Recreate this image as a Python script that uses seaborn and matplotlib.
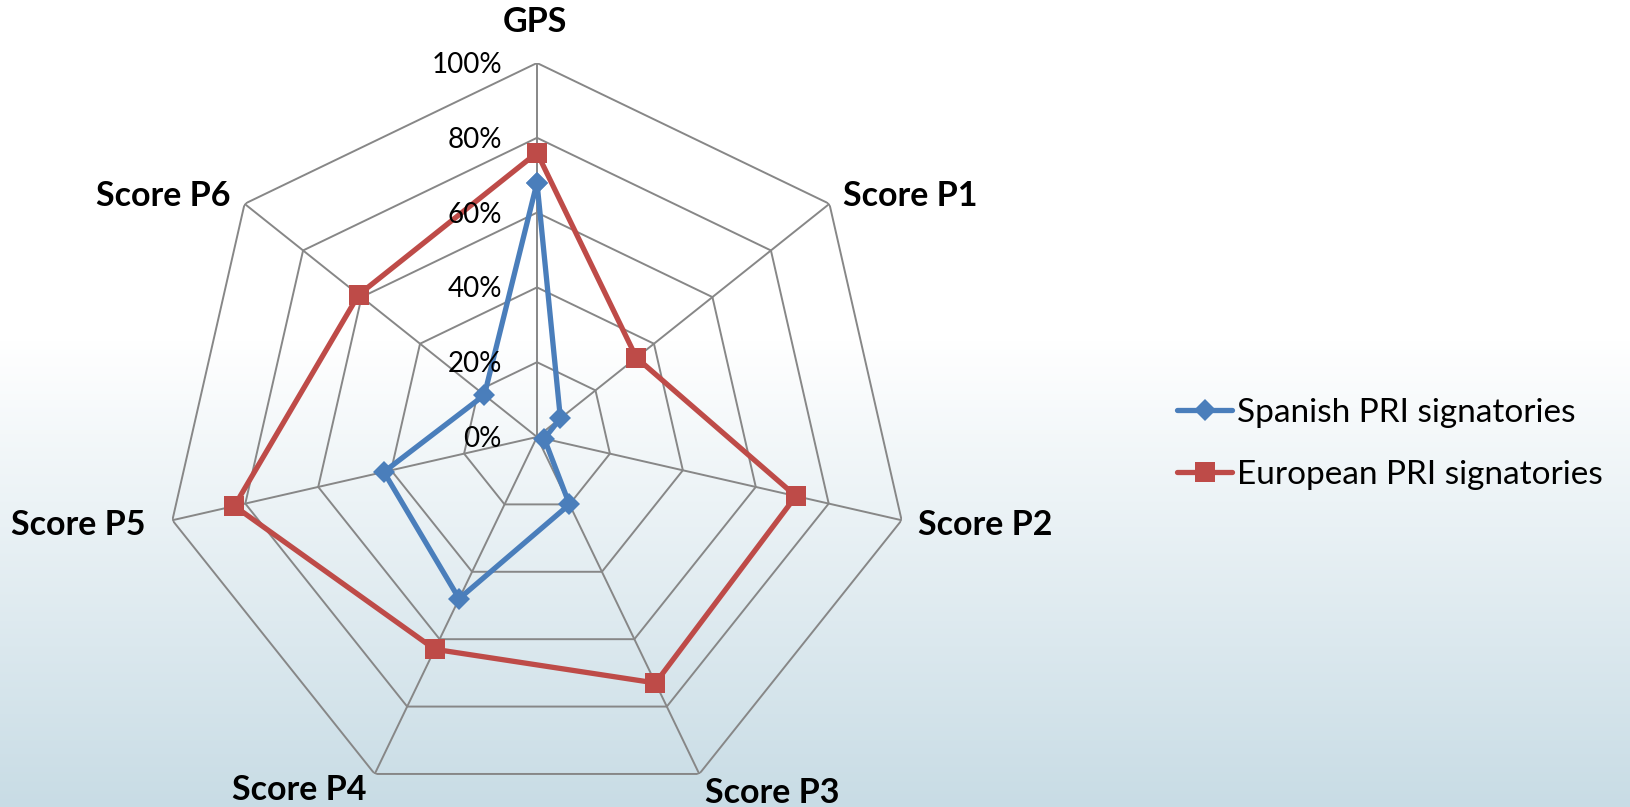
import numpy as np
import pandas as pd
import matplotlib
matplotlib.use("Agg")
import matplotlib.pyplot as plt
from matplotlib.lines import Line2D
import seaborn as sns

# ---- data ----
categories = ["GPS", "Score P1", "Score P2", "Score P3", "Score P4", "Score P5", "Score P6"]
spanish = [68, 8, 2, 20, 48, 42, 18]
european = [76, 34, 71, 73, 63, 83, 61]
series_names = ["Spanish PRI signatories", "European PRI signatories"]
radial_ticks = [0, 20, 40, 60, 80, 100]
radial_labels = ["0%", "20%", "40%", "60%", "80%", "100%"]

sns.set_theme(style="white")
plt.rcParams["font.family"] = ["Lato", "DejaVu Sans"]

W, H = 1631, 807
fig = plt.figure(figsize=(W / 100, H / 100), dpi=100)

# background gradient
bg = fig.add_axes([0, 0, 1, 1], zorder=-10)
rows = np.arange(H)
frac = np.clip((rows - 340) / (H - 340), 0, 1)
top = np.array([1.0, 1.0, 1.0])
bot = np.array([200, 220, 229]) / 255
grad = top[None, :] * (1 - frac[:, None]) + bot[None, :] * frac[:, None]
img = np.repeat(grad[:, None, :], 4, axis=1)
bg.imshow(img, aspect="auto", extent=[0, 1, 0, 1], origin="upper")
bg.axis("off")

# polar axes
cx, cy, R = 537, 437, 374
ax = fig.add_axes([(cx - R) / W, (H - cy - R) / H, 2 * R / W, 2 * R / H], projection="polar")
ax.set_theta_zero_location("N")
ax.set_theta_direction(-1)
ax.set_ylim(0, 1)
ax.patch.set_alpha(0)
ax.grid(False)
ax.spines["polar"].set_visible(False)

n = len(categories)
theta = np.arange(n) * 2 * np.pi / n
theta_c = np.append(theta, 2 * np.pi)

grid_col = "#878787"
for t in radial_ticks[1:]:
    ax.plot(theta_c, np.full(n + 1, t / 100), color=grid_col, lw=1.4, zorder=1)
for th in theta:
    ax.plot([th, th], [0, 1], color=grid_col, lw=1.4, zorder=1)

# data lines
colors = {"Spanish PRI signatories": "#4A7EBB", "European PRI signatories": "#BE4B48"}
rows_list = []
for name, vals in zip(series_names, [spanish, european]):
    vc = list(vals) + [vals[0]]
    for th, v in zip(theta_c, vc):
        rows_list.append({"series": name, "theta": th, "r": v / 100})
df = pd.DataFrame(rows_list)

lw = 3.8
sns.lineplot(data=df[df.series == series_names[1]], x="theta", y="r", color=colors[series_names[1]],
             marker="s", markersize=15, markeredgewidth=0, lw=lw, sort=False,
             errorbar=None, ax=ax, legend=False, zorder=3)
sns.lineplot(data=df[df.series == series_names[0]], x="theta", y="r", color=colors[series_names[0]],
             marker="D", markersize=11, markeredgewidth=0, lw=lw, sort=False,
             errorbar=None, ax=ax, legend=False, zorder=4)
ax.set_xlabel("")
ax.set_ylabel("")
ax.set_xticks([])
ax.set_yticks([])
ax.set_ylim(0, 1)

# radial labels
for t, lab in zip(radial_ticks, radial_labels):
    ax.annotate(lab, xy=(0, t / 100), xytext=(-35, -10), textcoords="offset pixels",
                ha="right", va="baseline", fontsize=20, color="black", zorder=5)

# category labels: (dx px, dy px downward, ha)
label_pos = [(-2, -31, "center"), (14, 2, "left"), (16, 15, "left"), (73, 29, "center"),
             (-75, 26, "center"), (-27, 15, "right"), (-14, 2, "right")]
for th, lab, (dx, dy, ha) in zip(theta, categories, label_pos):
    ax.annotate(lab, xy=(th, 1.0), xytext=(dx, -dy), textcoords="offset pixels",
                ha=ha, va="baseline", fontsize=24.5, fontweight="bold", color="black",
                annotation_clip=False)

# legend (manual)
leg_y = [410, 472]
for name, y, mk, ms in zip(series_names, leg_y, ["D", "s"], [11, 15]):
    fy = (H - y) / H
    fig.add_artist(Line2D([1177 / W, 1232 / W], [fy, fy], transform=fig.transFigure,
                          color=colors[name], lw=lw, solid_capstyle="round"))
    fig.add_artist(Line2D([1205 / W], [fy], transform=fig.transFigure, color=colors[name],
                          marker=mk, markersize=ms, markeredgewidth=0))
    fig.text(1237 / W, fy, name, ha="left", va="center_baseline", fontsize=24, color="black")

fig.savefig("out.png", dpi=100)
